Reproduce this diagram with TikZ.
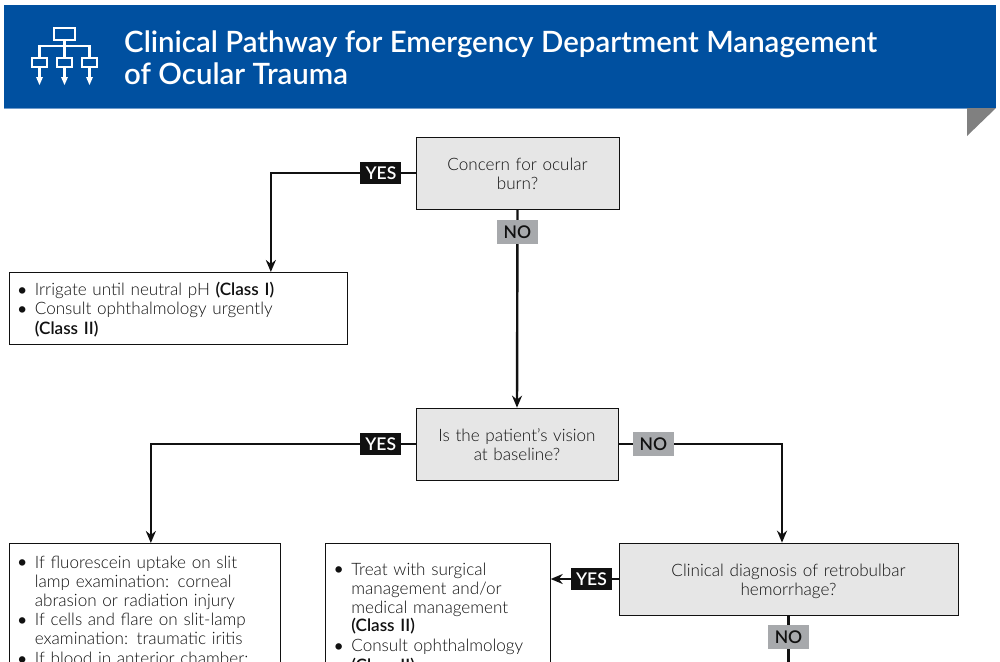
\documentclass[tikz,border=0pt]{standalone}
\usepackage{fontspec}
\usetikzlibrary{arrows.meta}
\setmainfont{Lato Light}[BoldFont=Lato Semibold]
\newfontfamily\titlefont{Lato Semibold}
\definecolor{bannerblue}{HTML}{0050A0}
\definecolor{bannerline}{HTML}{6F9BCB}
\definecolor{inkdark}{HTML}{111111}
\definecolor{boxgrey}{HTML}{E6E6E6}
\definecolor{nogrey}{HTML}{A7A9AC}
\definecolor{foldgrey}{HTML}{808080}
\newcommand{\bitem}[1]{\par\noindent\makebox[16pt][l]{\hspace{-3pt}\raisebox{-1.6pt}{\fontsize{22}{19}\selectfont\textbullet}}\parbox[t]{\dimexpr\linewidth-16pt}{\raggedright\strut #1\strut\par}}
\newcommand{\lowerby}[1]{\rule{0pt}{\dimexpr13.3pt+#1\relax}}
\tikzset{
  question/.style={draw=inkdark, line width=.7pt, fill=boxgrey, align=center, text=inkdark, inner sep=0pt,
    font=\fontsize{17.1}{19}\selectfont},
  action/.style={draw=inkdark, line width=.7pt, fill=white, align=left, text=inkdark, anchor=north west,
    inner xsep=10pt, font=\fontsize{17.1}{18.9}\selectfont},
  flow/.style={draw=inkdark, line width=2.4pt, -{Stealth[length=12pt,width=10pt]}},
  plainflow/.style={draw=inkdark, line width=2.4pt},
  yeslabel/.style={fill=inkdark, text=white, inner sep=0pt, minimum width=41pt, minimum height=22pt,
    font=\fontsize{17.5}{19}\selectfont\bfseries},
  nolabel/.style={fill=nogrey, text=inkdark, inner sep=0pt, minimum width=41pt, minimum height=24pt,
    font=\fontsize{17.5}{19}\selectfont\bfseries},
  iconline/.style={draw=white, line width=2.6pt}
}
\begin{document}
\begin{tikzpicture}[x=1pt, y=-1pt]
\useasboundingbox (0,0) rectangle (1000,661);
\clip (0,0) rectangle (1000,661);
% banner
\fill[bannerblue] (4,5) rectangle (996,108);
\fill[bannerline] (4,107.5) rectangle (967,108.5);
\fill[foldgrey] (967,108) -- (996,108) -- (967,136) -- cycle;
\node[anchor=west, text=white, align=left, inner sep=0pt, font=\fontsize{29.4}{32}\selectfont\titlefont] (title) at (124,58)
  {Clinical Pathway for Emergency Department Management\\of Ocular Trauma};
% icon
\draw[iconline] (54,28) rectangle (75,40);
\draw[iconline] (64.5,40) -- (64.5,58);
\draw[iconline] (39.5,58) -- (39.5,46) -- (89.5,46) -- (89.5,58);
\foreach \xa in {39.5,64.5,89.5} {
  \draw[iconline] (\xa-7.5,58) rectangle (\xa+7.5,67);
  \draw[iconline] (\xa,67) -- (\xa,78);
  \fill[white] (\xa-3.5,77) -- (\xa+3.5,77) -- (\xa,85) -- cycle;
}
% boxes
\node[question, minimum width=203pt, minimum height=72pt, text width=180pt] (burn) at (517.5,173) {\lowerby{1pt}Concern for ocular\\burn?};
\node[question, minimum width=202pt, minimum height=72pt, text width=180pt] (vision) at (517,444) {\lowerby{1pt}Is the patient's vision\\at baseline?};
\node[question, minimum width=339pt, minimum height=72pt, text width=300pt] (retro) at (788.5,579) {\lowerby{4pt}Clinical diagnosis of retrobulbar\\hemorrhage?};
\node[action, text width=318pt, inner ysep=4.5pt] (irrigate) at (8.5,272) {%
  \bitem{Irrigate until neutral pH \textbf{(Class I)}}
  \bitem{Consult ophthalmology urgently\\\textbf{(Class II)}}};
\node[action, text width=251pt, inner ysep=6pt, text depth=130pt] (fluor) at (8.5,543) {%
  \bitem{If fluorescein uptake on slit\\lamp examination: corneal\\abrasion or radiation injury}
  \bitem{If cells and flare on slit-lamp\\examination: traumatic iritis}
  \bitem{If blood in anterior chamber:}};
\node[action, text width=205pt, inner ysep=13pt, text depth=130pt] (treat) at (325,543) {%
  \bitem{Treat with surgical\\management and/or\\medical management\\\textbf{(Class II)}}
  \bitem{Consult ophthalmology\\\textbf{(Class II)}}};
\coordinate (retroend) at (retro.south |- 0,680);
% connectors
\draw[flow] (burn.west) -| node[yeslabel, pos=.12] (burnyes) {YES} ([xshift=93pt]irrigate.north);
\draw[flow] (burn.south) -- node[nolabel, pos=.116] (burnno) {NO} (vision.north);
\draw[flow] (vision.west) -| node[yeslabel, pos=.066] (visionyes) {YES} ([xshift=6.5pt]fluor.north);
\draw[flow] (vision.east) -| node[nolabel, pos=.107] (visionno) {NO} ([xshift=-6.5pt]retro.north);
\draw[flow] (retro.west) -- node[yeslabel, pos=.4] (retroyes) {YES} (treat.east |- retro.west);
\draw[plainflow] (retro.south) -- node[nolabel, pos=.34] (retrono) {NO} (retroend);
\end{tikzpicture}
\end{document}
